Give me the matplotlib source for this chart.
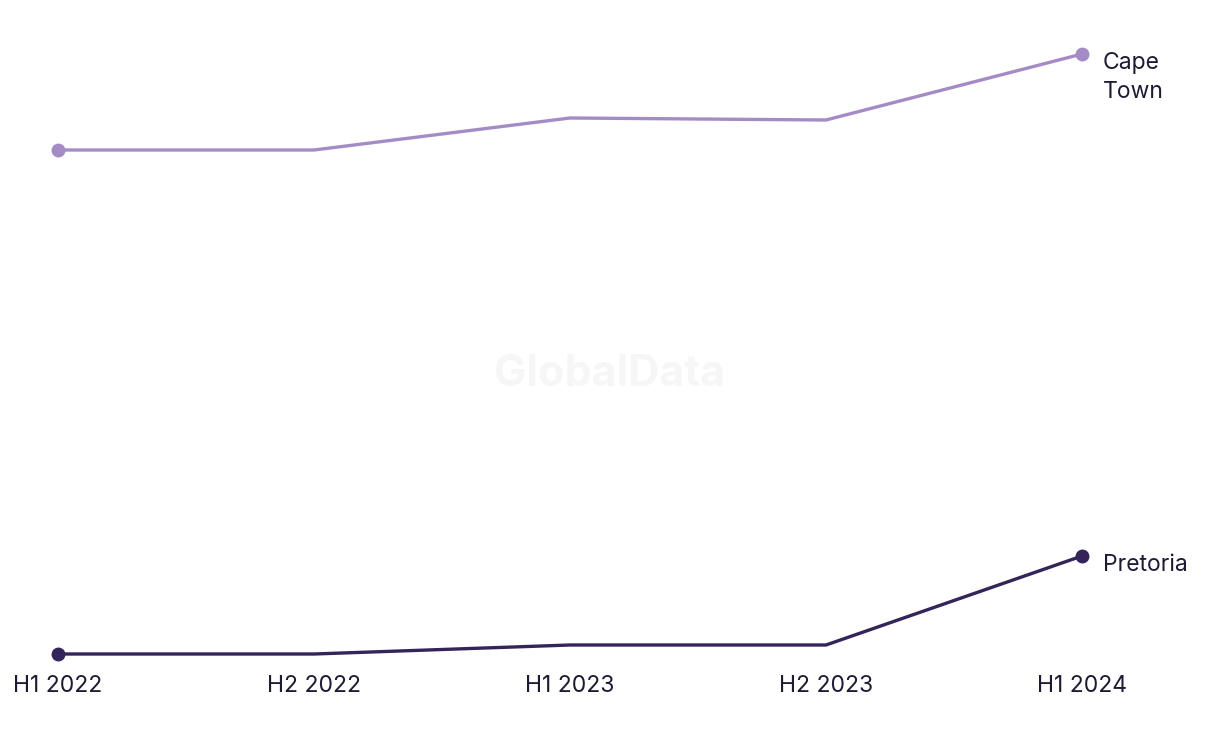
import matplotlib
matplotlib.use("Agg")
import matplotlib.pyplot as plt

periods = ["H1 2022", "H2 2022", "H1 2023", "H2 2023", "H1 2024"]
cape_town = [110.0, 110.0, 116.4, 116.0, 129.2]
pretoria = [9.2, 9.2, 11.0, 11.0, 28.8]

plt.rcParams['font.family'] = ['Inter', 'DejaVu Sans']
text_color = "#1e1a33"
cape_color = "#a58bc6"
pret_color = "#35245a"

fig = plt.figure(figsize=(12.2, 7.44), dpi=100)
ax = fig.add_axes([58/1220, 90/744, 1024/1220, 600/744])
x = list(range(len(periods)))

for vals, col, name in [(cape_town, cape_color, ["Cape", "Town"]), (pretoria, pret_color, ["Pretoria"])]:
    ax.plot(x, vals, color=col, lw=2.4, solid_capstyle='round', clip_on=False, zorder=3)
    ax.plot([x[0], x[-1]], [vals[0], vals[-1]], 'o', color=col, ms=9, clip_on=False, zorder=4)
    for i, line in enumerate(name):
        ax.annotate(line, (x[-1], vals[-1]), xytext=(15, -10.5 - 21 * i), textcoords='offset points',
                    ha='left', va='baseline', fontsize=16.5, color=text_color)

ax.set_xlim(0, 4)
ax.set_ylim(9.2, 129.2)
ax.set_xticks(x)
ax.set_xticklabels(periods, fontsize=16.5, color=text_color)
ax.tick_params(axis='x', length=0, pad=15)
ax.set_yticks([])
for s in ax.spines.values():
    s.set_visible(False)

fig.text(610/1220, 1 - 374/744, "GlobalData", ha='center', va='center',
         fontsize=31, fontweight='bold', color="#f6f6f6", zorder=0)

fig.savefig("out.png", dpi=100)
